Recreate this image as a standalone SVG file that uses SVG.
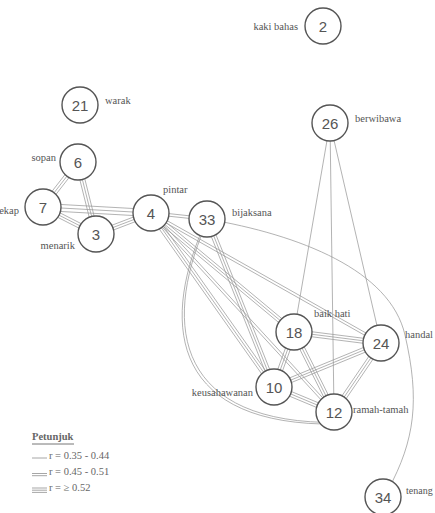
<svg xmlns="http://www.w3.org/2000/svg" width="435" height="513" viewBox="0 0 435 513">
<style>
.e{stroke:#999;stroke-width:0.75;fill:none}
.n circle{fill:#fff;stroke:#555;stroke-width:1.4}
.n .num{font-family:"Liberation Sans",Arial,sans-serif;font-size:15px;fill:#555;text-anchor:middle}
.lbl{font-family:"Liberation Serif","Times New Roman",serif;font-size:10.5px;fill:#555}
.lg{font-family:"Liberation Serif","Times New Roman",serif;font-size:10.5px;fill:#666}
</style>
<rect width="435" height="513" fill="#fff"/>
<g id="connectors">
<!-- 6-7 -->
<line class="e" x1="76.03" y1="160.46" x2="41.03" y2="205.46"/><line class="e" x1="78" y1="162" x2="43" y2="207"/><line class="e" x1="79.97" y1="163.54" x2="44.97" y2="208.54"/>
<!-- 6-3 -->
<line class="e" x1="75.57" y1="162.61" x2="93.57" y2="234.61"/><line class="e" x1="78" y1="162" x2="96" y2="234"/><line class="e" x1="80.43" y1="161.39" x2="98.43" y2="233.39"/>
<!-- 7-3 -->
<line class="e" x1="41.87" y1="209.23" x2="94.87" y2="236.23"/><line class="e" x1="43" y1="207" x2="96" y2="234"/><line class="e" x1="44.13" y1="204.77" x2="97.13" y2="231.77"/>
<!-- 7-4 -->
<line class="e" x1="42.81" y1="210.49" x2="150.81" y2="216.49"/><line class="e" x1="43" y1="207" x2="151" y2="213"/><line class="e" x1="43.19" y1="203.51" x2="151.19" y2="209.51"/>
<!-- 3-4 -->
<line class="e" x1="96.89" y1="236.33" x2="151.89" y2="215.33"/><line class="e" x1="96" y1="234" x2="151" y2="213"/><line class="e" x1="95.11" y1="231.67" x2="150.11" y2="210.67"/>
<!-- 4-33 -->
<line class="e" x1="150.86" y1="214.29" x2="206.86" y2="220.29"/><line class="e" x1="151.14" y1="211.71" x2="207.14" y2="217.71"/>
<!-- 4-18 -->
<line class="e" x1="149.4" y1="214.92" x2="292.4" y2="333.92"/><line class="e" x1="151" y1="213" x2="294" y2="332"/><line class="e" x1="152.6" y1="211.08" x2="295.6" y2="330.08"/>
<!-- 4-10 -->
<line class="e" x1="148.96" y1="214.44" x2="271.96" y2="388.44"/><line class="e" x1="151" y1="213" x2="274" y2="387"/><line class="e" x1="153.04" y1="211.56" x2="276.04" y2="385.56"/>
<!-- 4-12 -->
<line class="e" x1="150.04" y1="213.88" x2="333.04" y2="412.88"/><line class="e" x1="151.96" y1="212.12" x2="334.96" y2="411.12"/>
<!-- 4-24 -->
<line class="e" x1="150.36" y1="214.13" x2="380.36" y2="344.13"/><line class="e" x1="151.64" y1="211.87" x2="381.64" y2="341.87"/>
<!-- 33-10 -->
<line class="e" x1="204.68" y1="219.93" x2="271.68" y2="387.93"/><line class="e" x1="207" y1="219" x2="274" y2="387"/><line class="e" x1="209.32" y1="218.07" x2="276.32" y2="386.07"/>
<!-- 33-12 curved -->
<path class="e" d="M207,219 C160,320 170,420 322,424"/>
<path class="e" d="M209.2,217.4 C162.2,318.4 172.2,418.4 324.2,422.4"/>
<!-- 33-34 arc -->
<path class="e" d="M207,219 C300,235 390,270 405,335 C420,400 415,440 388,490"/>
<!-- 18-24 -->
<line class="e" x1="293.69" y1="334.48" x2="380.69" y2="345.48"/><line class="e" x1="294" y1="332" x2="381" y2="343"/><line class="e" x1="294.31" y1="329.52" x2="381.31" y2="340.52"/>
<!-- 18-10 -->
<line class="e" x1="291.65" y1="331.15" x2="271.65" y2="386.15"/><line class="e" x1="294" y1="332" x2="274" y2="387"/><line class="e" x1="296.35" y1="332.85" x2="276.35" y2="387.85"/>
<!-- 18-12 -->
<line class="e" x1="291.76" y1="333.12" x2="331.76" y2="413.12"/><line class="e" x1="294" y1="332" x2="334" y2="412"/><line class="e" x1="296.24" y1="330.88" x2="336.24" y2="410.88"/>
<!-- 10-24 -->
<line class="e" x1="274.95" y1="389.31" x2="381.95" y2="345.31"/><line class="e" x1="274" y1="387" x2="381" y2="343"/><line class="e" x1="273.05" y1="384.69" x2="380.05" y2="340.69"/>
<!-- 24-12 -->
<line class="e" x1="378.93" y1="341.59" x2="331.93" y2="410.59"/><line class="e" x1="381" y1="343" x2="334" y2="412"/><line class="e" x1="383.07" y1="344.41" x2="336.07" y2="413.41"/>
<!-- 10-12 -->
<line class="e" x1="273.04" y1="389.31" x2="333.04" y2="414.31"/><line class="e" x1="274" y1="387" x2="334" y2="412"/><line class="e" x1="274.96" y1="384.69" x2="334.96" y2="409.69"/>
<!-- 26 singles -->
<line class="e" x1="330" y1="123" x2="294" y2="332"/>
<line class="e" x1="330" y1="123" x2="334" y2="412"/>
<line class="e" x1="330" y1="123" x2="381" y2="343"/>
</g>
<g id="n2" class="n"><circle cx="323" cy="26" r="18"/><text class="num" x="323" y="31.5">2</text><text class="lbl" x="298" y="30" text-anchor="end">kaki bahas</text></g>
<g id="n21" class="n"><circle cx="80" cy="105" r="18"/><text class="num" x="80" y="110.5">21</text><text class="lbl" x="105" y="104">warak</text></g>
<g id="n26" class="n"><circle cx="330" cy="123" r="18"/><text class="num" x="330" y="128.5">26</text><text class="lbl" x="355" y="122">berwibawa</text></g>
<g id="n6" class="n"><circle cx="78" cy="162" r="18"/><text class="num" x="78" y="167.5">6</text><text class="lbl" x="56" y="161" text-anchor="end">sopan</text></g>
<g id="n7" class="n"><circle cx="43" cy="207" r="18"/><text class="num" x="43" y="212.5">7</text><text class="lbl" x="19" y="214" text-anchor="end">cekap</text></g>
<g id="n3" class="n"><circle cx="96" cy="234" r="18"/><text class="num" x="96" y="239.5">3</text><text class="lbl" x="75" y="249" text-anchor="end">menarik</text></g>
<g id="n4" class="n"><circle cx="151" cy="213" r="18"/><text class="num" x="151" y="218.5">4</text><text class="lbl" x="163" y="193">pintar</text></g>
<g id="n33" class="n"><circle cx="207" cy="219" r="18"/><text class="num" x="207" y="224.5">33</text><text class="lbl" x="232" y="216">bijaksana</text></g>
<g id="n18" class="n"><circle cx="294" cy="332" r="18"/><text class="num" x="294" y="337.5">18</text><text class="lbl" x="314" y="317">baik hati</text></g>
<g id="n24" class="n"><circle cx="381" cy="343" r="18"/><text class="num" x="381" y="348.5">24</text><text class="lbl" x="405" y="338">handal</text></g>
<g id="n10" class="n"><circle cx="274" cy="387" r="18"/><text class="num" x="274" y="392.5">10</text><text class="lbl" x="253" y="396" text-anchor="end">keusahawanan</text></g>
<g id="n12" class="n"><circle cx="334" cy="412" r="18"/><text class="num" x="334" y="417.5">12</text><text class="lbl" x="353" y="413">ramah-tamah</text></g>
<g id="n34" class="n"><circle cx="383" cy="497" r="18"/><text class="num" x="383" y="502.5">34</text><text class="lbl" x="406" y="494" style="font-size:10px">tenang</text></g>
<g id="legend">
<text class="lg" x="32" y="440" font-weight="bold">Petunjuk</text>
<line x1="32" y1="444" x2="74" y2="444" stroke="#777" stroke-width="1"/>
<line x1="32" y1="458" x2="47" y2="458" stroke="#888" stroke-width="0.75"/>
<text class="lg" x="49" y="459">r = 0.35 - 0.44</text>
<line x1="32" y1="473.5" x2="47" y2="473.5" stroke="#888" stroke-width="0.75"/><line x1="32" y1="475.7" x2="47" y2="475.7" stroke="#888" stroke-width="0.75"/>
<text class="lg" x="49" y="475">r = 0.45 - 0.51</text>
<line x1="32" y1="488" x2="47" y2="488" stroke="#888" stroke-width="0.75"/><line x1="32" y1="490.2" x2="47" y2="490.2" stroke="#888" stroke-width="0.75"/><line x1="32" y1="492.4" x2="47" y2="492.4" stroke="#888" stroke-width="0.75"/>
<text class="lg" x="49" y="491">r = ≥ 0.52</text>
</g>
</svg>
